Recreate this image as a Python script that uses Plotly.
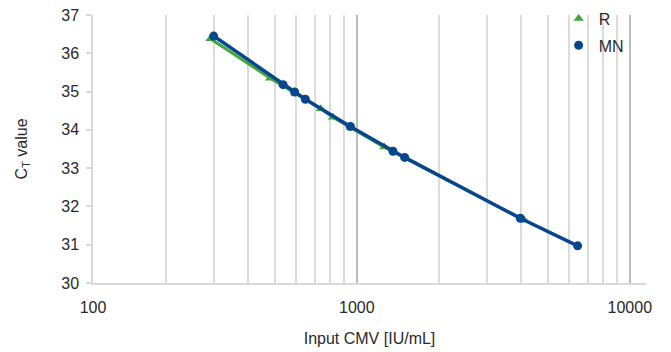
import plotly.graph_objects as go

# Data
r_input = [291, 482, 595, 738, 817, 951, 1261, 4109]
r_ct = [36.38, 35.35, 34.96, 34.55, 34.33, 34.05, 33.55, 31.64]

mn_input = [299, 537, 592, 648, 947, 1357, 1497, 3972, 6439]
mn_ct = [36.45, 35.18, 34.99, 34.80, 34.09, 33.44, 33.28, 31.69, 30.97]

x_tick_labels = ["100", "1000", "10000"]
y_ticks = [30, 31, 32, 33, 34, 35, 36, 37]

GREEN = "#3DA73A"
BLUE = "#07468E"
FONT = "Liberation Sans"
TXT = "#2a2a2a"
FS = 16

x_lo, x_hi = 2.0337, 4.0593
minor_vals = [m * d for d in (100, 1000) for m in range(2, 10)]

fig = go.Figure()
fig.add_trace(go.Scatter(x=r_input, y=r_ct, mode="lines", line=dict(color=GREEN, width=3),
                         showlegend=False, hoverinfo="skip", legendgroup="r"))
fig.add_trace(go.Scatter(x=r_input, y=r_ct, mode="markers", name="R", legendgroup="r",
                         marker=dict(symbol="triangle-up", color=GREEN, size=9)))
fig.add_trace(go.Scatter(x=mn_input, y=mn_ct, mode="lines", line=dict(color=BLUE, width=3.5),
                         showlegend=False, hoverinfo="skip", legendgroup="mn"))
fig.add_trace(go.Scatter(x=mn_input, y=mn_ct, mode="markers", name="MN", legendgroup="mn",
                         marker=dict(symbol="circle", color=BLUE, size=9)))

fig.update_layout(
    width=671, height=352,
    margin=dict(l=93, r=25, t=15, b=69, autoexpand=False),
    paper_bgcolor="white", plot_bgcolor="white",
    font=dict(family=FONT, size=FS, color=TXT),
    legend=dict(x=0.842, y=1.05, xanchor="left", yanchor="top",
                bgcolor="rgba(0,0,0,0)", font=dict(size=FS, color=TXT),
                tracegroupgap=3, itemwidth=30),
    xaxis=dict(
        type="log", range=[x_lo, x_hi],
        tickvals=[10 ** x_lo, 1000, 10000], ticktext=x_tick_labels,
        showgrid=True, gridcolor="#BDBDBD", gridwidth=1.5,
        minor=dict(tickvals=minor_vals, showgrid=True, gridcolor="#DCDCDC", gridwidth=1.5, ticks=""),
        showline=True, linecolor="#D9D9D9", linewidth=1.5,
        ticks="", zeroline=False, ticklabelstandoff=9,
        title=dict(text="Input CMV [IU/mL]", standoff=18, font=dict(size=FS, color=TXT)),
        tickfont=dict(size=FS, color=TXT),
    ),
    yaxis=dict(
        range=[30, 37], tickvals=y_ticks,
        showgrid=False, zeroline=False,
        showline=True, linecolor="#D9D9D9", linewidth=1.5,
        ticks="outside", ticklen=5, tickcolor="#D9D9D9", tickwidth=1.5,
        ticklabelstandoff=4,
        title=dict(text="C<sub>T</sub> value", standoff=30, font=dict(size=FS, color=TXT)),
        tickfont=dict(size=FS, color=TXT),
    ),
)

fig.write_html("out.html")
